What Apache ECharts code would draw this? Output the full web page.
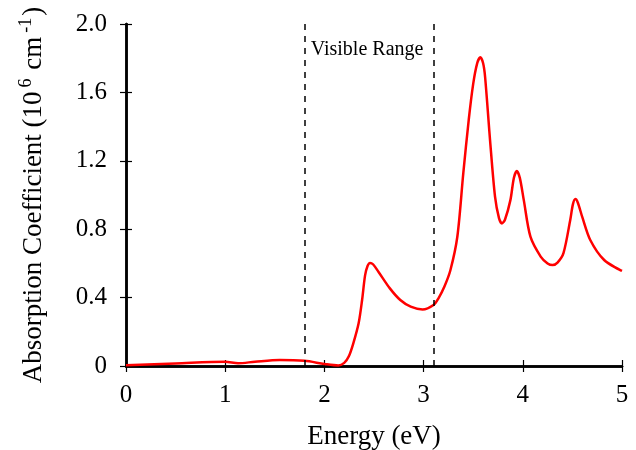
<!DOCTYPE html>
<html><head><meta charset="utf-8">
<script src="https://cdn.jsdelivr.net/npm/echarts@6/dist/echarts.min.js"></script>
<style>html,body{margin:0;padding:0;background:#fff}#c{width:636px;height:450px}</style>
</head><body><div id="c"></div>
<script>
const energy = [0, 0.5, 1.0, 1.13, 1.3, 1.55, 1.8, 2.0, 2.14, 2.2, 2.245, 2.29, 2.345, 2.38, 2.41, 2.435, 2.46, 2.49, 2.546, 2.66, 2.765, 2.87, 2.99, 3.1, 3.15, 3.21, 3.27, 3.34, 3.40, 3.455, 3.50, 3.54, 3.572, 3.60, 3.62, 3.67, 3.72, 3.76, 3.79, 3.82, 3.875, 3.91, 3.94, 3.97, 4.01, 4.077, 4.18, 4.25, 4.30, 4.35, 4.41, 4.48, 4.505, 4.53, 4.555, 4.60, 4.68, 4.82, 5.0];
const absorption = [0.005, 0.015, 0.025, 0.016, 0.025, 0.035, 0.03, 0.012, 0.003, 0.018, 0.055, 0.13, 0.25, 0.386, 0.53, 0.585, 0.603, 0.595, 0.55, 0.454, 0.386, 0.347, 0.331, 0.357, 0.396, 0.465, 0.56, 0.756, 1.127, 1.44, 1.65, 1.77, 1.805, 1.77, 1.69, 1.32, 0.99, 0.865, 0.834, 0.855, 0.97, 1.10, 1.14, 1.10, 0.97, 0.756, 0.64, 0.60, 0.59, 0.605, 0.66, 0.86, 0.945, 0.976, 0.955, 0.87, 0.737, 0.62, 0.556];
const visibleBounds = [1.8, 3.1];
const xTicks = [0, 1, 2, 3, 4, 5];
const yTicks = [0, 0.4, 0.8, 1.2, 1.6, 2.0];
const annotation = {text: 'Visible Range', x: 2.43, y: 1.85};

const FONT = 'Liberation Serif';
const chart = echarts.init(document.getElementById('c'));
const axisLine = {show: true, lineStyle: {color: '#000', width: 2.5}};
const tick = {show: true, inside: true, length: 6, lineStyle: {color: '#000', width: 1.2}};
const data = energy.map((e, i) => [e, absorption[i]]);
chart.setOption({
  animation: false,
  grid: {left: 126, right: 14, top: 24, bottom: 84, containLabel: false, outerBoundsMode: 'none'},
  xAxis: [{
    type: 'value', min: 0, max: 5, interval: 1,
    axisLine, axisTick: tick, splitLine: {show: false},
    axisLabel: {fontFamily: FONT, fontSize: 25, color: '#000', margin: 17,
      formatter: v => xTicks.includes(v) ? String(v) : ''},
    name: 'Energy (eV)', nameLocation: 'middle', nameGap: 57,
    nameTextStyle: {fontFamily: FONT, fontSize: 27, color: '#000'}
  }, {
    type: 'value', min: 0, max: 5, interval: 1, position: 'top',
    axisLine, axisTick: tick, axisLabel: {show: false}, splitLine: {show: false}
  }],
  yAxis: [{
    type: 'value', min: 0, max: 2.0, interval: 0.4,
    axisLine, axisTick: tick, splitLine: {show: false},
    axisLabel: {fontFamily: FONT, fontSize: 25, color: '#000', margin: 19,
      formatter: v => { const t = yTicks.find(y => Math.abs(y - v) < 1e-9); return t === undefined ? '' : (t === 0 ? '0' : t.toFixed(1)); }},
    name: '{m|Absorption Coefficient (10}{s|6}{m| cm}{s|-1}{m|)}',
    nameLocation: 'middle', nameGap: 79, nameRotate: 90,
    nameTextStyle: {fontFamily: FONT, fontSize: 27, color: '#000',
      rich: {
        m: {fontFamily: FONT, fontSize: 27, color: '#000', verticalAlign: 'bottom', lineHeight: 30},
        s: {fontFamily: FONT, fontSize: 18, color: '#000', verticalAlign: 'top', lineHeight: 30, padding: [0, 2, 12, 4]}
      }}
  }, {
    type: 'value', min: 0, max: 2.0, interval: 0.4, position: 'right',
    axisLine, axisTick: tick, axisLabel: {show: false}, splitLine: {show: false}
  }],
  series: [{
    type: 'line', data, showSymbol: false, smooth: 0.3,
    lineStyle: {color: '#ff0000', width: 2.5}, z: 3,
    markLine: {
      silent: true, symbol: 'none', label: {show: false},
      lineStyle: {color: '#000', type: [6, 6], width: 1.5},
      data: visibleBounds.map(v => ({xAxis: v}))
    }
  }]
});
const p = chart.convertToPixel({xAxisIndex: 0, yAxisIndex: 0}, [annotation.x, annotation.y]);
chart.setOption({graphic: [{type: 'text', x: p[0], y: p[1],
  style: {text: annotation.text, fontFamily: FONT, fontSize: 20, fill: '#000', align: 'center', verticalAlign: 'middle'}}]});
</script></body></html>
